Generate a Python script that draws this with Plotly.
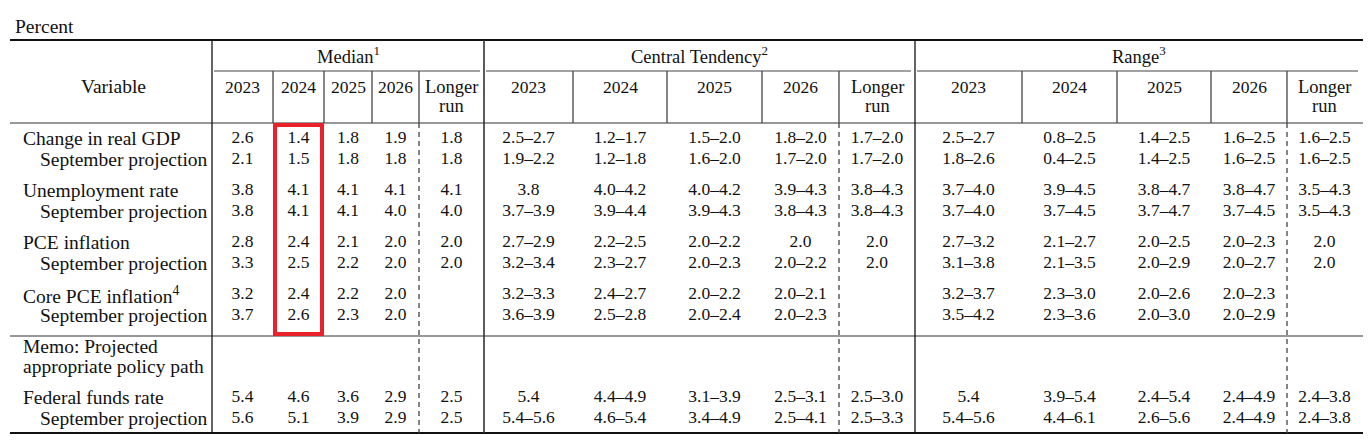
import plotly.graph_objects as go

# ---------------- data ----------------
years = ["2023", "2024", "2025", "2026", "Longer<br>run"]
groups = ["Median<sup>1</sup>", "Central Tendency<sup>2</sup>", "Range<sup>3</sup>"]

row_labels = [
    "Change in real GDP", "September projection",
    "Unemployment rate", "September projection",
    "PCE inflation", "September projection",
    "Core PCE inflation<sup>4</sup>", "September projection",
    "Federal funds rate", "September projection",
]
memo_labels = ["Memo: Projected", "appropriate policy path"]

median_values = [
    ["2.6", "1.4", "1.8", "1.9", "1.8"],
    ["2.1", "1.5", "1.8", "1.8", "1.8"],
    ["3.8", "4.1", "4.1", "4.1", "4.1"],
    ["3.8", "4.1", "4.1", "4.0", "4.0"],
    ["2.8", "2.4", "2.1", "2.0", "2.0"],
    ["3.3", "2.5", "2.2", "2.0", "2.0"],
    ["3.2", "2.4", "2.2", "2.0", ""],
    ["3.7", "2.6", "2.3", "2.0", ""],
    ["5.4", "4.6", "3.6", "2.9", "2.5"],
    ["5.6", "5.1", "3.9", "2.9", "2.5"],
]
central_values = [
    ["2.5–2.7", "1.2–1.7", "1.5–2.0", "1.8–2.0", "1.7–2.0"],
    ["1.9–2.2", "1.2–1.8", "1.6–2.0", "1.7–2.0", "1.7–2.0"],
    ["3.8", "4.0–4.2", "4.0–4.2", "3.9–4.3", "3.8–4.3"],
    ["3.7–3.9", "3.9–4.4", "3.9–4.3", "3.8–4.3", "3.8–4.3"],
    ["2.7–2.9", "2.2–2.5", "2.0–2.2", "2.0", "2.0"],
    ["3.2–3.4", "2.3–2.7", "2.0–2.3", "2.0–2.2", "2.0"],
    ["3.2–3.3", "2.4–2.7", "2.0–2.2", "2.0–2.1", ""],
    ["3.6–3.9", "2.5–2.8", "2.0–2.4", "2.0–2.3", ""],
    ["5.4", "4.4–4.9", "3.1–3.9", "2.5–3.1", "2.5–3.0"],
    ["5.4–5.6", "4.6–5.4", "3.4–4.9", "2.5–4.1", "2.5–3.3"],
]
range_values = [
    ["2.5–2.7", "0.8–2.5", "1.4–2.5", "1.6–2.5", "1.6–2.5"],
    ["1.8–2.6", "0.4–2.5", "1.4–2.5", "1.6–2.5", "1.6–2.5"],
    ["3.7–4.0", "3.9–4.5", "3.8–4.7", "3.8–4.7", "3.5–4.3"],
    ["3.7–4.0", "3.7–4.5", "3.7–4.7", "3.7–4.5", "3.5–4.3"],
    ["2.7–3.2", "2.1–2.7", "2.0–2.5", "2.0–2.3", "2.0"],
    ["3.1–3.8", "2.1–3.5", "2.0–2.9", "2.0–2.7", "2.0"],
    ["3.2–3.7", "2.3–3.0", "2.0–2.6", "2.0–2.3", ""],
    ["3.5–4.2", "2.3–3.6", "2.0–3.0", "2.0–2.9", ""],
    ["5.4", "3.9–5.4", "2.4–5.4", "2.4–4.9", "2.4–3.8"],
    ["5.4–5.6", "4.4–6.1", "2.6–5.6", "2.4–4.9", "2.4–3.8"],
]
highlight_column = "2024"   # highlighted median column

# ---------------- layout geometry ----------------
W, H = 1372, 442
PAGE_MARGIN = 8  # default body margin of the html page
FONT = "Liberation Serif"
FS_NUM = 17.5
FS_TXT = 18.5
FS_LAB = 19.5
INK = "#111111"

group_bounds = [
    [212, 273, 324, 372, 419, 484],
    [484, 573, 667, 762, 839, 915],
    [915, 1022, 1117, 1211, 1287, 1362],
]
row_y = [138.5, 159.5, 190.5, 211.5, 242.5, 263.5, 294.5, 315.5, 397.5, 418.5]
memo_y = [346.5, 366.5]
label_x_main, label_x_sub = 20.5, 37.5
y_top, y_grp, y_head, y_memo, y_bot = 40, 71, 123, 336, 433
x_left, x_right = 10, 1363

fig = go.Figure()

# values as text marks
for bounds, values in zip(group_bounds, [median_values, central_values, range_values]):
    centers = [(bounds[i] + bounds[i + 1]) / 2 for i in range(5)]
    xs, ys, ts = [], [], []
    for r, row in enumerate(values):
        for c, v in enumerate(row):
            if v:
                xs.append(centers[c]); ys.append(row_y[r]); ts.append(v)
    fig.add_trace(go.Scatter(x=xs, y=ys, text=ts, mode="text",
                             textposition="middle center",
                             textfont=dict(family=FONT, size=FS_NUM, color=INK),
                             hoverinfo="skip", showlegend=False))

ann = []
def txt(x, y, t, xanchor="center", size=FS_TXT):
    ann.append(dict(x=x, y=y, xref="x", yref="y", text=t, showarrow=False,
                    xanchor=xanchor, yanchor="middle",
                    font=dict(family=FONT, size=size, color=INK)))

txt(13, 26, "Percent", "left", size=FS_LAB)
txt(113, 86, "Variable", size=FS_LAB)
for g, bounds in zip(groups, group_bounds):
    txt((bounds[0] + bounds[-1]) / 2, 55, g)
    for i, yl in enumerate(years):
        cx = (bounds[i] + bounds[i + 1]) / 2
        if "<br>" in yl:
            a, b = yl.split("<br>")
            txt(cx, 87, a)
            txt(cx, 106, b)
        else:
            txt(cx, 87, yl, size=FS_NUM)

for r, lab in enumerate(row_labels):
    sub = lab.startswith("September")
    txt(label_x_sub if sub else label_x_main, row_y[r], lab, "left", size=FS_LAB)
for y, lab in zip(memo_y, memo_labels):
    txt(label_x_main, y, lab, "left", size=FS_LAB)

shapes = []
def line(x0, y0, x1, y1, color=INK, width=1, dash="solid"):
    shapes.append(dict(type="line", xref="x", yref="y", x0=x0, y0=y0, x1=x1, y1=y1,
                       line=dict(color=color, width=width, dash=dash)))

# horizontal rules
line(x_left, y_top, x_right, y_top, width=2)
line(x_left, y_head, x_right, y_head, color="#333", width=1.2)
line(x_left, y_memo, x_right, y_memo, color="#333", width=1.2)
line(x_left, y_bot, x_right, y_bot, width=2.2)
for bounds in group_bounds:
    line(bounds[0] + 2, y_grp, bounds[-1] - 4, y_grp, color="#444", width=1.2)

# vertical rules
line(212, y_top, 212, y_bot, width=1.3)
line(484, y_top, 484, y_bot, color="#333", width=1.6)
line(915, y_top, 915, y_bot, width=1.3)
for bounds in group_bounds:
    for xb in bounds[1:5]:
        line(xb, y_grp, xb, y_head, color="#444", width=1.3)
    line(bounds[4], y_head, bounds[4], y_bot, color="#444", width=1.3, dash="5px,4px")

# highlight box around the 2024 median column
hi = years.index(highlight_column)
b = group_bounds[0]
shapes.append(dict(type="rect", xref="x", yref="y", x0=b[hi] + 2, x1=b[hi + 1] - 2,
                   y0=y_head + 2, y1=y_memo - 2,
                   line=dict(color="#E8212B", width=4), fillcolor="rgba(0,0,0,0)"))

# the page adds an 8px body margin: shift the axes so content lands on window pixels
fig.update_layout(
    width=W - 2 * PAGE_MARGIN, height=H - 2 * PAGE_MARGIN,
    margin=dict(l=0, r=0, t=0, b=0),
    paper_bgcolor="white", plot_bgcolor="white",
    xaxis=dict(range=[PAGE_MARGIN, W - PAGE_MARGIN], visible=False, fixedrange=True),
    yaxis=dict(range=[H - PAGE_MARGIN, PAGE_MARGIN], visible=False, fixedrange=True),
    annotations=ann, shapes=shapes, showlegend=False,
)
fig.write_html("out.html")
